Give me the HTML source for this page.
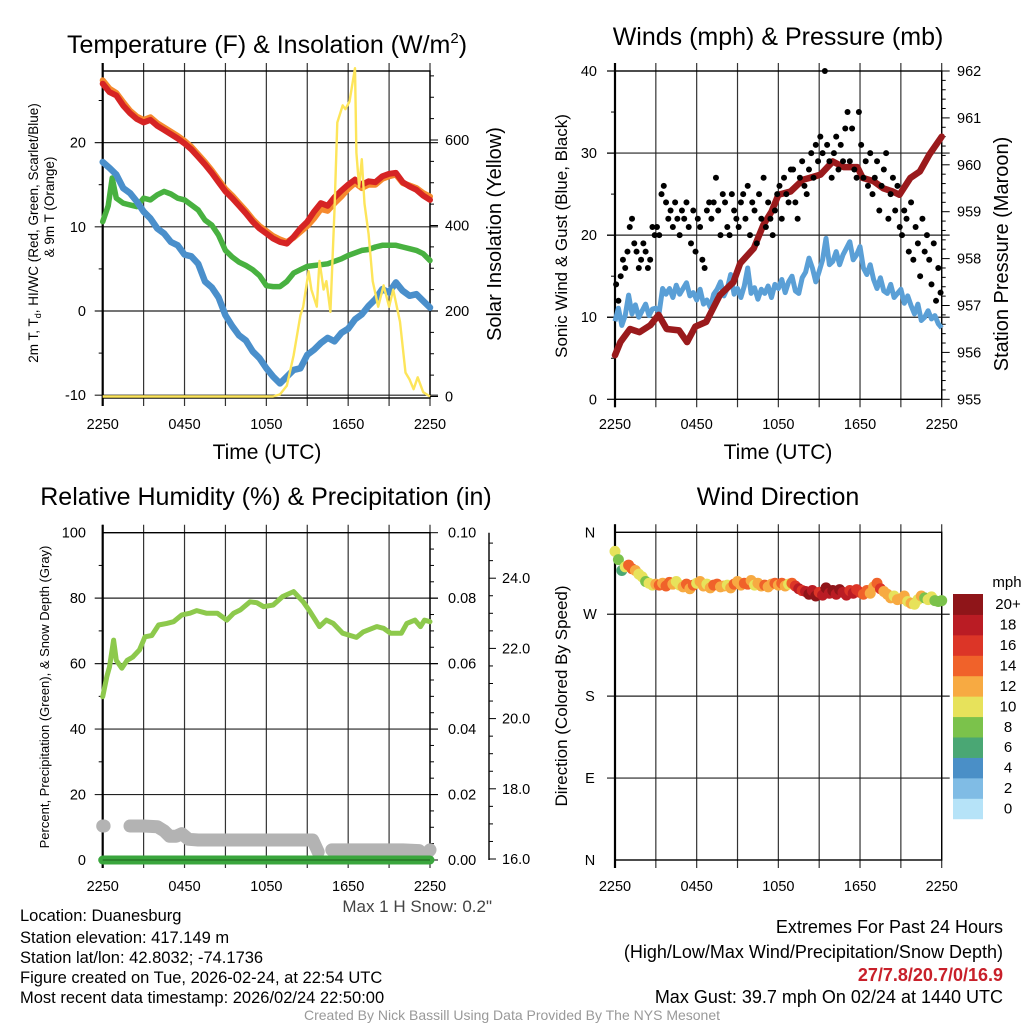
<!DOCTYPE html>
<html><head><meta charset="utf-8"><title>Duanesburg Meteogram</title>
<style>
html,body{margin:0;padding:0;background:#fff;}
svg{display:block;font-family:"Liberation Sans",Arial,sans-serif;}
</style></head>
<body>
<svg id="fig" xmlns="http://www.w3.org/2000/svg" width="1024" height="1024" viewBox="0 0 1024 1024">
<rect x="0" y="0" width="1024" height="1024" fill="#fff"/>
<!-- titles -->
<text x="267" y="53" font-size="25" text-anchor="middle">Temperature (F) &amp; Insolation (W/m<tspan font-size="15" dy="-10">2</tspan><tspan dy="10">)</tspan></text>
<text x="778" y="45" font-size="25" text-anchor="middle">Winds (mph) &amp; Pressure (mb)</text>
<text x="266" y="505" font-size="25" text-anchor="middle">Relative Humidity (%) &amp; Precipitation (in)</text>
<text x="778" y="505" font-size="25" text-anchor="middle">Wind Direction</text>
<!-- axis titles -->
<text x="267" y="459" font-size="21" text-anchor="middle">Time (UTC)</text>
<text x="778" y="459" font-size="21" text-anchor="middle">Time (UTC)</text>
<text transform="translate(38,233) rotate(-90)" font-size="13.5" text-anchor="middle">2m T, T<tspan font-size="9" dy="3">d</tspan><tspan dy="-3">, HI/WC (Red, Green, Scarlet/Blue)</tspan></text>
<text transform="translate(54,207) rotate(-90)" font-size="13.5" text-anchor="middle">&amp; 9m T (Orange)</text>
<text transform="translate(501,234) rotate(-90)" font-size="20" text-anchor="middle">Solar Insolation (Yellow)</text>
<text transform="translate(567,236) rotate(-90)" font-size="17" text-anchor="middle">Sonic Wind &amp; Gust (Blue, Black)</text>
<text transform="translate(1008,254) rotate(-90)" font-size="20" text-anchor="middle">Station Pressure (Maroon)</text>
<text transform="translate(49,697) rotate(-90)" font-size="13" text-anchor="middle">Percent, Precipitation (Green), &amp; Snow Depth (Gray)</text>
<text transform="translate(567,696) rotate(-90)" font-size="17" text-anchor="middle">Direction (Colored By Speed)</text>
<!-- footer -->
<g font-size="16.5" fill="#000">
<text x="20" y="921">Location: Duanesburg</text>
<text x="20" y="943">Station elevation: 417.149 m</text>
<text x="20" y="963">Station lat/lon: 42.8032; -74.1736</text>
<text x="20" y="983">Figure created on Tue, 2026-02-24, at 22:54 UTC</text>
<text x="20" y="1003">Most recent data timestamp: 2026/02/24 22:50:00</text>
</g>
<text x="492" y="912" font-size="17" fill="#444" text-anchor="end">Max 1 H Snow: 0.2"</text>
<g font-size="18" text-anchor="end">
<text x="1003" y="933">Extremes For Past 24 Hours</text>
<text x="1003" y="958">(High/Low/Max Wind/Precipitation/Snow Depth)</text>
<text x="1003" y="981" fill="#c8202a" font-weight="bold">27/7.8/20.7/0/16.9</text>
<text x="1003" y="1003">Max Gust: 39.7 mph On 02/24 at 1440 UTC</text>
</g>
<text x="512" y="1020" font-size="14" fill="#999" text-anchor="middle">Created By Nick Bassill Using Data Provided By The NYS Mesonet</text>
</svg>
<script>
// ---------- DATA ----------
const xTickLabels = ["2250","0450","1050","1650","2250"];
const tempHours = [0,0.5,1,1.5,2,2.5,3,3.5,4,4.5,5,5.5,6,6.5,7,7.5,8,8.5,9,9.5,10,10.5,11,11.5,12,12.5,13,13.5,14,14.5,15,15.5,16,16.5,17,17.5,18,18.5,19,19.5,20,20.5,21,21.5,22,22.5,23,23.5,24];
const tempRed = [27.0,26.0,25.6,24.4,23.5,22.8,22.4,22.7,22.0,21.5,21.0,20.5,19.9,19.2,18.3,17.4,16.4,15.3,14.2,13.4,12.5,11.6,10.6,9.8,9.2,8.6,8.2,8.0,8.8,9.8,10.6,11.8,12.8,12.5,13.5,14.3,15.0,15.6,15.0,15.4,15.3,16.0,16.3,16.4,15.3,14.8,14.4,13.7,13.2];
const temp9mOrange = [27.4,26.4,25.9,24.8,23.8,23.1,22.7,23.0,22.3,21.8,21.3,20.8,20.2,19.5,18.6,17.7,16.7,15.6,14.5,13.7,12.8,11.9,10.9,10.1,9.5,8.9,8.5,8.2,8.7,9.4,10.1,11.0,12.1,11.9,12.8,13.6,14.5,15.2,14.6,15.0,15.0,15.7,16.0,16.2,15.2,14.9,14.6,14.0,13.6];
const windChillBlue = [17.7,17.0,16.2,14.6,14.0,13.0,11.8,11.0,9.8,9.2,8.2,7.8,6.7,6.5,5.6,3.5,2.8,1.6,-0.5,-1.8,-2.9,-3.5,-4.8,-5.6,-6.8,-7.8,-8.6,-7.8,-7.0,-6.8,-5.2,-4.6,-3.8,-3.2,-3.6,-2.6,-2.1,-1.0,-0.4,0.6,1.4,2.6,2.2,3.4,2.4,1.8,2.0,1.2,0.4];
const dewHours = [0,0.4,0.7,1,1.5,2,2.5,3,3.5,4,4.5,5,5.5,6,6.5,7,7.5,8,8.5,9,9.5,10,10.5,11,11.5,12,12.5,13,13.5,14,14.5,15,15.5,16,16.5,17,17.5,18,18.5,19,19.5,20,20.5,21,21.5,22,22.5,23,23.5,24];
const dewGreen = [10.6,12.5,15.8,13.4,12.8,12.6,12.4,13.4,13.2,13.8,14.2,13.9,13.4,13.2,12.6,12.0,10.8,10.2,9.0,7.2,6.4,5.8,5.4,4.9,4.2,3.0,2.9,2.9,3.5,4.5,4.9,5.3,5.4,5.5,5.6,5.9,6.2,6.6,6.9,7.2,7.3,7.6,7.8,7.8,7.8,7.6,7.4,7.2,6.8,6.0];
const solarHours = [0,12.5,13.0,13.5,14.0,14.5,14.7,15.1,15.3,15.7,15.9,16.2,16.4,16.7,17.0,17.2,17.6,17.8,18.1,18.5,18.6,18.8,19.0,19.2,19.5,19.8,20.2,20.6,21.0,21.3,21.8,22.2,22.5,22.8,23.1,23.5,24];
const solarVals = [0,0,5,25,96,190,210,293,250,210,317,250,270,198,436,641,681,672,690,768,570,490,555,451,380,270,210,260,210,250,175,56,40,17,45,10,0];
const tempTicks = [-10,0,10,20];
const solarTicks = [0,200,400,600];

const presHours = [0,0.4,1.1,1.8,2.6,3.2,3.8,4.7,5.3,5.9,6.7,7.7,8.7,9.2,10.2,10.9,11.5,12,12.9,13.8,14.3,15.1,16,16.8,17.8,18.2,19,19.7,20.4,20.9,21.7,22.4,23.1,24];
const presVals = [955.94,956.22,956.5,956.43,956.58,956.8,956.5,956.47,956.22,956.55,956.65,957.22,957.5,957.9,958.22,958.72,959.0,959.36,959.43,959.68,959.72,959.79,960.07,959.95,959.95,959.72,959.65,959.5,959.43,959.36,959.72,959.86,960.22,960.6];
const windStep = 0.25;
const sonicWind = [9.5,11.1,9.0,10.2, 12.7,10.4,11.5,10.0, 10.8,11.6,10.2,11.0, 11.1,10.6,13.5,12.8, 13.5,12.4,13.9,12.8, 13.5,14.2,12.6,13.0, 12.1,13.4,11.6,12.1, 11.2,12.8,13.4,14.3, 12.6,13.5,15.2,12.8, 13.5,12.4,13.8,16.0, 12.9,13.6,12.2,13.4, 12.9,13.8,12.4,14.0, 13.5,14.6,13.0,14.3, 15.0,13.2,12.9,14.8, 15.5,17.2,16.0,14.3, 15.6,17.0,19.6,16.4, 16.8,18.0,16.4,17.6, 18.4,19.2,17.0,17.6, 18.6,16.0,15.2,16.4, 14.6,13.5,14.8,13.2, 12.9,14.0,12.4,12.9, 13.4,11.7,12.6,11.4, 10.4,11.6,9.6,10.0, 10.8,9.8,10.2,9.2, 8.7];
const gustStep = 1/6;
const gusts = [14,12,15,17,16,18, 21,22,19,18,16,17, 19,18,16,17,21,20, 21,20,25,26,24,22, 23,21,24,22,20,23, 22,24,21,19,23,18, 22,21,17,16,23,24, 22,24,27,23,20,25, 24,21,20,25,23,22, 21,24,25,22,26,20, 24,23,19,25,22,27, 21,24,22,20,23,25, 26,22,27,25,24,28, 28,24,22,27,29,26, 25,28,30,27,31,29, 32,30,40,31,29,27, 30,32,28,31,29,33, 35,29,33,28,27,35, 31,27,29,26,30,25, 27,29,23,26,28,30, 22,25,27,23,26,21, 20,23,22,18,24,17, 21,19,15,22,18,20, 17,14,19,12,16,13];
const windTicks = [0,10,20,30,40];
const presTicks = [955,956,957,958,959,960,961,962];

const rhHours = [0,0.3,0.5,0.8,1,1.4,1.8,2.2,2.7,3.1,3.6,4.1,4.7,5.2,5.8,6.4,6.9,7.6,8.4,9.1,9.6,10.1,10.8,11.3,11.8,12.5,13.2,14,14.7,15.2,15.9,16.4,16.9,17.6,18.6,19.1,20.1,20.6,21.1,21.9,22.3,22.9,23.3,23.6,24];
const rhVals = [49.9,56,59,67.2,61,58.6,61,62,64.2,68.2,68.6,71.8,72.3,72.8,74.9,75.4,76.2,75.4,75.4,73.3,75.4,76.4,78.9,78.6,77.4,77.9,80.5,82,78.9,75.9,71.3,73.3,72.3,69.3,68,69.7,71.3,70.8,69.3,69.3,72.3,73.3,71.3,73.3,72.8];
const precipHours = [0,24];
const precipVals = [0,0];
const snowHours = [0,0.1,1,2.0,3.0,4.0,4.5,4.9,5.4,5.8,6.3,7,9,11,13,15.4,15.8,16.2,16.8,18,20,22,23.2,23.5,24];
const snowVals = [16.94,16.94,null,16.94,16.94,16.92,16.8,16.65,16.65,16.72,16.56,16.54,16.54,16.54,16.54,16.54,16.2,null,16.26,16.26,16.26,16.26,16.24,16.05,16.26];
const rhTicks = [0,20,40,60,80,100];
const precipTicks = ["0.00","0.02","0.04","0.06","0.08","0.10"];
const snowTicks = ["16.0","18.0","20.0","22.0","24.0"];

const dirStep = 0.25;
const dirVals = [339,330,318,322, 324,320,318,314, 311,306,304,302, 303,302,304,301, 305,303,306,302, 300,303,298,302, 304,306,301,303, 299,302,303,300, 301,302,299,303, 306,302,304,303, 307,302,304,301, 302,300,303,304, 302,304,301,303, 304,301,298,296, 295,292,296,290, 294,291,299,293, 296,292,297,294, 291,296,293,297, 294,292,296,293, 300,304,298,295, 292,288,290,286, 287,290,284,282, 281,286,290,288, 286,289,285,284, 285];
const dirSpeeds = [10,9,7,10, 14,15,13,11, 10,9,10,11, 12,14,13,15, 14,12,10,11, 13,14,12,14, 11,12,13,11, 13,14,14,13, 12,11,12,14, 12,13,14,15, 12,11,12,13, 14,12,13,14, 13,14,12,11, 15,17,18,16, 19,21,18,20, 17,19,21,18, 20,18,21,19, 18,17,19,16, 17,14,15,13, 12,14,16,13, 12,13,11,12, 12,13,10,12, 10,11,12,9, 10,11,9,8, 8];
const dirTickLabels = ["N","E","S","W","N"];
const dirTickValues = [0,90,180,270,360];
const speedBinLabels = ["0","2","4","6","8","10","12","14","16","18","20+"];
const speedBinColors = ["#b6e3f8","#80bce5","#4a8fc7","#4aa774","#7bc24b","#e7e25b","#f7aa42","#f0622a","#dc3527","#ba1c24","#8f1519"];

// ---------- HELPERS ----------
const NS = "http://www.w3.org/2000/svg";
const svg = document.getElementById("fig");
function mk(parent, tag, attrs, txt){
  const e = document.createElementNS(NS, tag);
  for (const k in attrs) e.setAttribute(k, attrs[k]);
  if (txt !== undefined) e.textContent = txt;
  parent.appendChild(e);
  return e;
}
function group(name){
  const g = document.createElementNS(NS, "g");
  
  
  svg.appendChild(g);
  return g;
}
function lin(d0,d1,r0,r1){ return v => r0 + (v-d0)/(d1-d0)*(r1-r0); }
function pathFrom(xs, ys, xf, yf){
  let d = "", pen = false;
  for (let i=0;i<xs.length;i++){
    if (ys[i]===null){ pen=false; continue; }
    d += (pen?"L":"M") + xf(xs[i]).toFixed(1) + "," + yf(ys[i]).toFixed(1);
    pen = true;
  }
  return d;
}

function frame(name, x0, x1, yT, yB, hTicksY){
  const g = group(name + "-frame");
  const xs = lin(0,24,x0,x1);
  for (let h=0; h<=24; h+=3){
    const l = mk(g,"line",{x1:xs(h),x2:xs(h),y1:yT-8,y2:yB+8,stroke:"#333","stroke-width":1.2});
    
    
  }
  hTicksY.forEach(y=>{
    const l = mk(g,"line",{x1:x0-8,x2:x1+8,y1:y,y2:y,stroke:"#222","stroke-width":1.2});
    
    
  });
  const r = mk(g,"rect",{x:x0,y:yT,width:x1-x0,height:yB-yT,fill:"none",stroke:"#000","stroke-width":1.4});
  
  
  const l2 = mk(g,"line",{x1:x0,x2:x0,y1:yT-8,y2:yB+8,stroke:"#000","stroke-width":2.2});
  
  
  return xs;
}
function xLabels(name, xs, y){
  const g = group(name + "-x-tick-labels");
  xTickLabels.forEach((lab,i)=>{
    const t = mk(g,"text",{x:xs(i*6),y:y,"font-size":14.5,"text-anchor":"middle"},lab);
    
    
  });
}

// ---------- PANEL 1 ----------
(function(){
  const x0=102.7, x1=430, yT=71, yB=398;
  const yt = lin(0,10,311,226.8);
  const ys = lin(0,200,396.5,311);
  const xs = frame("temperature", x0, x1, yT, yB, tempTicks.map(yt));
  const g = group("temperature-axes");
  [25,15,5,-5].forEach(v=>{
    const l = mk(g,"line",{x1:x0-4,x2:x0,y1:yt(v),y2:yt(v),stroke:"#000","stroke-width":1});
    
    
  });
  tempTicks.forEach(v=>{
    const t = mk(g,"text",{x:86,y:yt(v)+5,"font-size":14.5,"text-anchor":"end"},String(v));
    
    
  });
  for (let w=0; w<=750; w+=50){
    const major = w%200===0;
    const l = mk(g,"line",{x1:x1,x2:x1+(major?8:4),y1:ys(w),y2:ys(w),stroke:"#000","stroke-width":1});
    
    
  }
  solarTicks.forEach(v=>{
    const t = mk(g,"text",{x:445,y:ys(v)+5,"font-size":14.5},String(v));
    
    
  });
  xLabels("temperature", xs, 429);
  const s = group("temperature-series");
  const p1 = mk(s,"path",{d:pathFrom(tempHours,temp9mOrange,xs,yt),fill:"none",stroke:"#f58a2e","stroke-width":6,"stroke-linejoin":"round","stroke-linecap":"round"});
  
  
  const p2 = mk(s,"path",{d:pathFrom(tempHours,tempRed,xs,yt),fill:"none",stroke:"#d62424","stroke-width":6,"stroke-linejoin":"round","stroke-linecap":"round"});
  
  
  const p3 = mk(s,"path",{d:pathFrom(dewHours,dewGreen,xs,yt),fill:"none",stroke:"#48b140","stroke-width":5.5,"stroke-linejoin":"round","stroke-linecap":"round"});
  
  
  const p4 = mk(s,"path",{d:pathFrom(tempHours,windChillBlue,xs,yt),fill:"none",stroke:"#4a8fcb","stroke-width":6.5,"stroke-linejoin":"round","stroke-linecap":"round"});
  
  
  const p5 = mk(s,"path",{d:pathFrom(solarHours,solarVals,xs,ys),fill:"none",stroke:"#fde55a","stroke-width":2.4,"stroke-linejoin":"round"});
  
  
})();

// ---------- PANEL 2 ----------
(function(){
  const x0=615, x1=941.7, yT=71, yB=399.3;
  const yw = lin(0,40,yB,yT);
  const yp = lin(955,962,yB,yT);
  const xs = frame("winds", x0, x1, yT, yB, [10,20,30].map(yw));
  const g = group("winds-axes");
  [5,15,25,35].forEach(v=>{
    const l = mk(g,"line",{x1:x0-4,x2:x0,y1:yw(v),y2:yw(v),stroke:"#000","stroke-width":1});
    
    
  });
  windTicks.forEach(v=>{
    const l = mk(g,"line",{x1:x0-8,x2:x0,y1:yw(v),y2:yw(v),stroke:"#000","stroke-width":1.2});
    
    
    const t = mk(g,"text",{x:597,y:yw(v)+5,"font-size":14.5,"text-anchor":"end"},String(v));
    
    
  });
  for (let p=955; p<=962.001; p+=0.2){
    const major = Math.abs(p-Math.round(p))<0.01;
    const l = mk(g,"line",{x1:x1,x2:x1+(major?8:4),y1:yp(p),y2:yp(p),stroke:"#000","stroke-width":1});
    
    
  }
  presTicks.forEach(v=>{
    const t = mk(g,"text",{x:957,y:yp(v)+5,"font-size":14.5},String(v));
    
    
  });
  xLabels("winds", xs, 429);
  const s = group("winds-series");
  const pw = mk(s,"path",{d:pathFrom(sonicWind.map((v,i)=>i*windStep),sonicWind,xs,yw),fill:"none",stroke:"#5a9fd6","stroke-width":5,"stroke-linejoin":"round"});
  
  
  const pp = mk(s,"path",{d:pathFrom(presHours,presVals,xs,yp),fill:"none",stroke:"#9a1a1c","stroke-width":6.5,"stroke-linejoin":"round","stroke-linecap":"round"});
  
  
  gusts.forEach((v,i)=>{
    const c = mk(s,"circle",{cx:xs(i*gustStep+gustStep/2),cy:yw(v),r:3,fill:"#000"});
    
    
  });
})();

// ---------- PANEL 3 ----------
(function(){
  const x0=102.7, x1=430, yT=532.7, yB=860;
  const yr = lin(0,100,yB,yT);
  const ypr = lin(0,0.1,yB,yT);
  const ysn = lin(16,24,859,578.2);
  const xs = frame("humidity", x0, x1, yT, yB, [20,40,60,80].map(yr));
  const g = group("humidity-axes");
  [10,30,50,70,90].forEach(v=>{
    const l = mk(g,"line",{x1:x0-4,x2:x0,y1:yr(v),y2:yr(v),stroke:"#000","stroke-width":1});
    
    
  });
  rhTicks.forEach(v=>{
    const t = mk(g,"text",{x:86,y:yr(v)+5,"font-size":14.5,"text-anchor":"end"},String(v));
    
    
  });
  for (let k=0;k<=20;k++){
    const l = mk(g,"line",{x1:x1,x2:x1+(k%4===0?8:4),y1:ypr(k*0.005),y2:ypr(k*0.005),stroke:"#000","stroke-width":1});
    
    
  }
  precipTicks.forEach(lab=>{
    const t = mk(g,"text",{x:448,y:ypr(parseFloat(lab))+5,"font-size":14.5},lab);
    
    
  });
  const sa = mk(g,"line",{x1:489,x2:489,y1:yT,y2:yB,stroke:"#000","stroke-width":1.4});
  
  
  for (let v=16; v<=25.3; v+=0.5){
    const major = Math.abs(v-Math.round(v/2)*2)<0.01;
    const l = mk(g,"line",{x1:489,x2:489+(major?7:4),y1:ysn(v),y2:ysn(v),stroke:"#000","stroke-width":1});
    
    
  }
  snowTicks.forEach(lab=>{
    const t = mk(g,"text",{x:502,y:ysn(parseFloat(lab))+5,"font-size":14.5},lab);
    
    
  });
  xLabels("humidity", xs, 891);
  const s = group("humidity-series");
  const ps = mk(s,"path",{d:pathFrom(snowHours,snowVals,xs,ysn),fill:"none",stroke:"#b3b3b3","stroke-width":13,"stroke-linejoin":"round","stroke-linecap":"round"});
  
  
  const pr = mk(s,"path",{d:pathFrom(precipHours,precipVals,xs,ypr),fill:"none",stroke:"#3aa63d","stroke-width":9,"stroke-linecap":"round"});
  
  
  const prl = mk(s,"path",{d:pathFrom(precipHours,precipVals,xs,ypr),fill:"none",stroke:"#1c5e1c","stroke-width":1});
  
  
  const ph = mk(s,"path",{d:pathFrom(rhHours,rhVals,xs,yr),fill:"none",stroke:"#8dc94c","stroke-width":5,"stroke-linejoin":"round","stroke-linecap":"round"});
  
  
})();

// ---------- PANEL 4 ----------
(function(){
  const x0=615, x1=941.7, yT=532.3, yB=860;
  const yd = lin(0,360,yB,yT);
  const xs = frame("direction", x0, x1, yT, yB, [90,180,270].map(yd));
  const g = group("direction-axes");
  dirTickValues.forEach((v,i)=>{
    const t = mk(g,"text",{x:590,y:yd(v)+5,"font-size":14.5,"text-anchor":"middle"},dirTickLabels[i]);
    
    
  });
  xLabels("direction", xs, 891);
  const s = group("direction-series");
  dirVals.forEach((v,i)=>{
    const bin = Math.min(10, Math.floor(dirSpeeds[i]/2));
    const c = mk(s,"circle",{cx:xs(i*dirStep),cy:yd(v),r:5.5,fill:speedBinColors[bin]});
    
    
  });
  const cb = group("speed-colorbar");
  const cbTop=594, segH=20.43;
  const mt = mk(cb,"text",{x:1007,y:587,"font-size":15,"text-anchor":"middle"},"mph");
  
  
  speedBinLabels.forEach((lab,i)=>{
    const k = speedBinLabels.length-1-i;
    const y = cbTop + k*segH;
    const r = mk(cb,"rect",{x:953,y:y,width:30,height:segH+0.5,fill:speedBinColors[i]});
    
    
    const t = mk(cb,"text",{x:1008,y:y+segH/2+5,"font-size":15,"text-anchor":"middle"},lab);
    
    
  });
})();
</script>
</body></html>
